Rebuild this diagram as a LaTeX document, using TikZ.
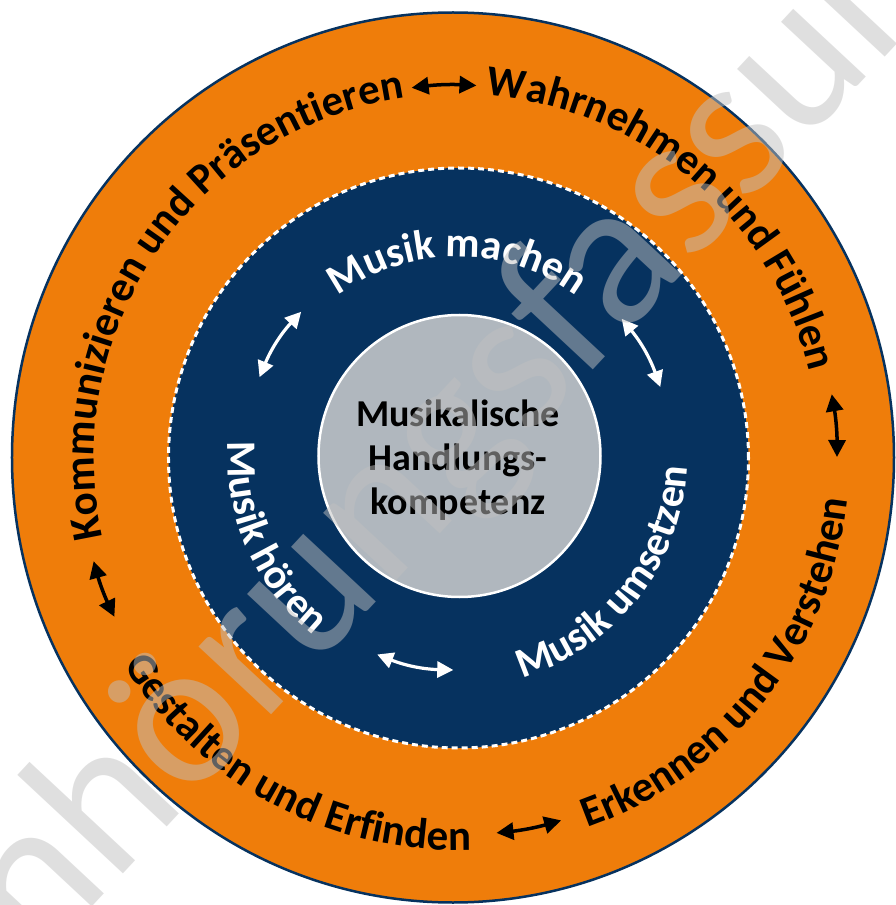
\documentclass[tikz,border=0pt]{standalone}
\usepackage{fontspec}
\setmainfont{Carlito}
\usetikzlibrary{arrows.meta,decorations.text}

\definecolor{ringorange}{RGB}{239,125,10}
\definecolor{ringnavy}{RGB}{6,50,95}
\definecolor{coregrey}{RGB}{176,183,190}
\definecolor{markgrey}{RGB}{192,192,192}

\newcommand{\ringouterfont}{\bfseries\fontsize{43}{51}\selectfont}
\newcommand{\ringinnerfont}{\color{white}\bfseries\fontsize{42}{50}\selectfont}

\begin{document}
\begin{tikzpicture}[x=1pt,y=1pt,
  arctext/.style={decorate,decoration={text along path,text align=center,text={#1}}},
  blackarrow/.style={line width=3.5pt,{Triangle[length=17pt,width=17pt]}-{Triangle[length=17pt,width=17pt]}},
  whitearrow/.style={white,line width=3.2pt,{Triangle[length=16pt,width=16pt]}-{Triangle[length=16pt,width=16pt]}}]
\useasboundingbox (-457,-448) rectangle (439,457);

% rings
\filldraw [fill=ringorange,draw=ringnavy,line width=2.5pt] (-4,-0.5) ellipse [x radius=441,y radius=445];
\fill [ringnavy] (1.5,-1) circle [radius=290];
\draw [white,line width=3pt,dash pattern=on 6pt off 4pt] (1.5,-1) circle [radius=290];
\filldraw [fill=coregrey,draw=white,line width=2.5pt] (2.5,1) circle [radius=141];

% outer ring
\path [arctext={|\ringouterfont|Kommunizieren und Präsentieren}] (205.5:363) arc [start angle=205.5,end angle=85.5,radius=363];
\path [arctext={|\ringouterfont|Wahrnehmen und Fühlen}] (109.5:363) arc [start angle=109.5,end angle=-10.5,radius=363];
\path [arctext={|\ringouterfont|Gestalten und Erfinden}] (182:393) arc [start angle=182,end angle=302,radius=393];
\path [arctext={|\ringouterfont|Erkennen und Verstehen}] (261.6:393) arc [start angle=261.6,end angle=381.6,radius=393];

\coordinate (t1) at (97:372);   \coordinate (t2) at (87:372);
\coordinate (r1) at (9.5:380);  \coordinate (r2) at (0:380);
\coordinate (b1) at (-74:378);  \coordinate (b2) at (-84:378);
\coordinate (l1) at (205:378);  \coordinate (l2) at (196:378);
\draw [blackarrow] (t1) to [bend left=5] (t2);
\draw [blackarrow] (r1) to [bend left=5] (r2);
\draw [blackarrow] (b1) to [bend left=5] (b2);
\draw [blackarrow] (l1) to [bend left=5] (l2);

% inner ring
\path [arctext={|\ringinnerfont|Musik machen}] (160:200) arc [start angle=160,end angle=20,radius=200];
\path [arctext={|\ringinnerfont|Musik hören}] (143.7:229) arc [start angle=143.7,end angle=263.7,radius=229];
\path [arctext={|\ringinnerfont|Musik umsetzen}] (262:230) arc [start angle=262,end angle=382,radius=230];

\coordinate (w1) at (158:213);  \coordinate (w2) at (137:213);
\coordinate (w3) at (40:215);   \coordinate (w4) at (19:215);
\coordinate (w5) at (269:213);  \coordinate (w6) at (248:213);
\draw [whitearrow] (w1) to [bend left=10] (w2);
\draw [whitearrow] (w3) to [bend left=10] (w4);
\draw [whitearrow] (w5) to [bend left=10] (w6);

% core
\node [align=center,font=\bfseries\fontsize{38}{44}\selectfont] (core) at (1,-3) {Musikalische\\Handlungs-\\kompetenz};

% watermark
\node [rotate=47,text=markgrey,opacity=0.5,font=\fontsize{208}{208}\selectfont] (mark) at (-10,10) {Anhörungsfassung};
\end{tikzpicture}
\end{document}
